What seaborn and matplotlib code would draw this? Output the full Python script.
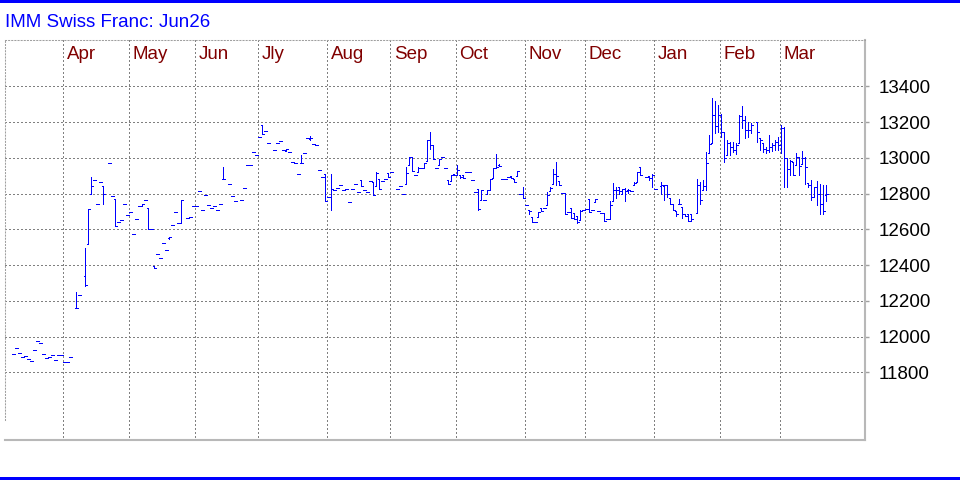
import numpy as np
import pandas as pd
import matplotlib
matplotlib.use("Agg")
from matplotlib import pyplot as plt
from matplotlib.patches import Rectangle
import matplotlib.transforms as mtransforms
import seaborn as sns

# session = weekday number counted from Tue 1 Apr 2025 (negative = March 2025)
session = [
    -17, -16, -15, -14, -13, -12, -11, -10, -9, -8,
    -7, -6, -5, -4, -3, -2, -1, 0, 1, 2,
    4, 5, 7, 8, 9, 10, 11, 12, 13, 15,
    16, 17, 18, 19, 20, 21, 22, 23, 24, 25,
    26, 27, 28, 29, 30, 31, 32, 33, 34, 35,
    36, 37, 38, 39, 41, 42, 43, 44, 45, 46,
    47, 48, 49, 50, 51, 52, 53, 55, 56, 57,
    59, 60, 61, 62, 63, 64, 65, 66, 67, 68,
    70, 71, 72, 73, 74, 75, 76, 77, 78, 79,
    80, 81, 82, 83, 84, 85, 86, 87, 88, 89,
    90, 91, 92, 93, 94, 95, 96, 97, 98, 99,
    100, 101, 102, 103, 104, 105, 106, 107, 108, 109,
    111, 112, 113, 114, 115, 116, 117, 118, 119, 120,
    121, 122, 123, 124, 125, 126, 127, 128, 129, 130,
    131, 132, 133, 134, 135, 136, 137, 138, 139, 140,
    141, 142, 143, 144, 145, 146, 147, 148, 149, 150,
    151, 152, 153, 154, 155, 156, 157, 158, 159, 160,
    161, 162, 163, 164, 165, 166, 167, 168, 169, 170,
    171, 172, 173, 174, 175, 176, 177, 178, 179, 180,
    181, 182, 183, 184, 185, 186, 187, 188, 189, 190,
    191, 192, 194, 195, 196, 197, 199, 200, 201, 202,
    203, 204, 205, 206, 207, 208, 209, 211, 212, 213,
    214, 215, 216, 217, 218, 219, 220, 221, 222, 223,
    224, 225, 226, 227, 228, 229, 231, 232, 233, 234,
    235, 236, 237, 238, 239, 240, 241, 242, 243, 244,
    245, 246, 247, 248, 249, 250, 251, 252, 253, 254,
]

opens = [
    11902, 11935, 11909, 11887, 11891, 11874, 11863, 11924, 11974, 11963,
    11902, 11880, 11885, 11896, 11868, 11896, 11896, 11857, 11857, 11885,
    12160, 12230, 12341, 12520, 12796, 12874, 12741, 12863, 12844, 12969,
    12785, 12768, 12641, 12652, 12741, 12680, 12696, 12574, 12657, 12728,
    12730, 12763, 12719, 12602, 12395, 12463, 12441, 12524, 12485, 12551,
    12624, 12696, 12636, 12636, 12664, 12670, 12732, 12732, 12816, 12709,
    12794, 12738, 12721, 12732, 12709, 12743, 12879, 12856, 12788, 12760,
    12766, 12833, 12957, 12957, 13031, 13014, 13115, 13185, 13149, 13082,
    13042, 13082, 13093, 13042, 13040, 13031, 12974, 12969, 12907, 12969,
    13025, 13110, 13105, 13076, 13070, 12929, 12890, 12912, 12783, 12783,
    12822, 12833, 12850, 12817, 12823, 12755, 12828, 12856, 12806, 12873,
    12817, 12811, 12868, 12862, 12840, 12879, 12868, 12879, 12913, 12918,
    12823, 12840, 12800, 12851, 12958, 13007, 12901, 12920, 12941, 12941,
    12980, 13100, 13072, 12941, 12958, 13003, 12941, 12873, 12870, 12910,
    12901, 12905, 12901, 12918, 12918, 12873, 12806, 12823, 12766, 12766,
    12800, 12817, 12885, 12941, 12960, 12884, 12884, 12895, 12900, 12880,
    12900, 12800, 12800, 12738, 12708, 12667, 12641, 12670, 12720, 12720,
    12736, 12815, 12854, 12910, 12870, 12804, 12804, 12697, 12720, 12690,
    12672, 12652, 12708, 12714, 12770, 12708, 12750, 12703, 12692, 12692,
    12658, 12658, 12759, 12820, 12837, 12800, 12826, 12820, 12815, 12848,
    12865, 12950, 12894, 12900, 12888, 12826, 12843, 12843, 12845, 12777,
    12743, 12700, 12743, 12724, 12687, 12687, 12683, 12690, 12850, 12822,
    12841, 13029, 13082, 13241, 13179, 13241, 13144, 13016, 13082, 13063,
    13044, 13082, 13232, 13213, 13153, 13157, 13200, 13110, 13082, 13048,
    13044, 13063, 13072, 13091, 13072, 13166, 12997, 12935, 12978, 12959,
    13007, 12965, 13000, 12860, 12846, 12781, 12837, 12800, 12743, 12790,
]

highs = [
    11902, 11935, 11909, 11887, 11891, 11874, 11863, 11924, 11974, 11963,
    11902, 11880, 11885, 11896, 11868, 11896, 11896, 11857, 11857, 11885,
    12250, 12230, 12496, 12713, 12893, 12874, 12741, 12863, 12844, 12969,
    12785, 12768, 12641, 12652, 12741, 12680, 12696, 12574, 12657, 12728,
    12741, 12763, 12719, 12602, 12395, 12463, 12441, 12524, 12485, 12556,
    12624, 12696, 12636, 12766, 12664, 12670, 12732, 12732, 12816, 12709,
    12794, 12738, 12721, 12732, 12709, 12743, 12946, 12856, 12788, 12760,
    12766, 12833, 12957, 12957, 13031, 13014, 13115, 13185, 13149, 13082,
    13042, 13082, 13093, 13042, 13050, 13031, 12974, 12969, 12907, 13014,
    13025, 13110, 13120, 13076, 13070, 12929, 12890, 12912, 12783, 12912,
    12822, 12833, 12850, 12817, 12823, 12755, 12828, 12856, 12806, 12873,
    12817, 12811, 12868, 12862, 12918, 12879, 12868, 12879, 12913, 12918,
    12823, 12840, 12800, 12950, 13003, 13007, 12901, 12946, 12941, 12969,
    13100, 13144, 13072, 12941, 12992, 13003, 12941, 12873, 12901, 12910,
    12958, 12905, 12901, 12918, 12918, 12873, 12806, 12823, 12817, 12766,
    12817, 12879, 12941, 13022, 12965, 12884, 12884, 12895, 12900, 12880,
    12927, 12800, 12836, 12738, 12708, 12667, 12641, 12697, 12720, 12720,
    12807, 12836, 12938, 12979, 12870, 12804, 12804, 12697, 12720, 12690,
    12672, 12708, 12708, 12714, 12770, 12708, 12770, 12703, 12692, 12692,
    12658, 12759, 12860, 12837, 12837, 12826, 12832, 12826, 12815, 12865,
    12921, 12950, 12894, 12900, 12910, 12826, 12862, 12850, 12850, 12777,
    12743, 12700, 12771, 12724, 12687, 12687, 12683, 12879, 12867, 12873,
    13033, 13129, 13335, 13317, 13298, 13247, 13144, 13100, 13087, 13090,
    13082, 13241, 13288, 13232, 13198, 13195, 13200, 13110, 13082, 13063,
    13129, 13082, 13100, 13119, 13185, 13175, 12997, 12988, 12978, 13025,
    13007, 13040, 13007, 12860, 12875, 12837, 12871, 12856, 12847, 12847,
]

lows = [
    11902, 11935, 11909, 11887, 11891, 11874, 11863, 11924, 11974, 11963,
    11902, 11880, 11885, 11896, 11868, 11896, 11896, 11857, 11857, 11885,
    12157, 12230, 12280, 12517, 12796, 12874, 12741, 12863, 12741, 12969,
    12785, 12617, 12641, 12652, 12741, 12680, 12696, 12574, 12657, 12728,
    12730, 12763, 12602, 12602, 12385, 12463, 12441, 12524, 12485, 12545,
    12624, 12696, 12636, 12636, 12664, 12670, 12732, 12732, 12816, 12709,
    12794, 12738, 12721, 12732, 12709, 12743, 12879, 12856, 12788, 12760,
    12766, 12833, 12957, 12957, 13031, 13014, 13115, 13132, 13149, 13082,
    13042, 13082, 13093, 13042, 13040, 13031, 12974, 12969, 12907, 12969,
    13025, 13110, 13100, 13076, 13070, 12929, 12890, 12760, 12783, 12709,
    12822, 12833, 12850, 12817, 12823, 12755, 12828, 12856, 12806, 12840,
    12817, 12811, 12868, 12789, 12840, 12828, 12868, 12879, 12890, 12918,
    12823, 12840, 12800, 12851, 12958, 12924, 12901, 12920, 12941, 12941,
    12980, 13050, 12992, 12941, 12958, 13003, 12941, 12856, 12870, 12901,
    12901, 12885, 12885, 12918, 12918, 12873, 12806, 12710, 12766, 12766,
    12800, 12817, 12885, 12941, 12952, 12884, 12884, 12895, 12885, 12864,
    12900, 12800, 12776, 12738, 12686, 12641, 12641, 12670, 12703, 12720,
    12736, 12815, 12854, 12849, 12850, 12804, 12686, 12697, 12664, 12658,
    12635, 12652, 12708, 12714, 12697, 12708, 12750, 12703, 12692, 12647,
    12658, 12658, 12759, 12776, 12800, 12800, 12759, 12805, 12815, 12848,
    12865, 12905, 12894, 12878, 12837, 12826, 12800, 12764, 12780, 12743,
    12709, 12672, 12743, 12664, 12672, 12649, 12649, 12690, 12743, 12822,
    12822, 13029, 13082, 13138, 13147, 13119, 12978, 13016, 13016, 13030,
    13020, 13082, 13166, 13110, 13119, 13138, 13091, 13044, 13035, 13025,
    13035, 13040, 13044, 13044, 13025, 12837, 12837, 12903, 12903, 12959,
    12903, 12965, 12856, 12835, 12762, 12781, 12734, 12687, 12683, 12760,
]

closes = [
    11902, 11935, 11909, 11887, 11891, 11874, 11863, 11924, 11974, 11963,
    11902, 11880, 11885, 11896, 11868, 11896, 11896, 11857, 11857, 11885,
    12160, 12230, 12290, 12713, 12844, 12874, 12741, 12863, 12796, 12969,
    12785, 12617, 12641, 12652, 12741, 12680, 12696, 12574, 12657, 12728,
    12741, 12763, 12602, 12602, 12385, 12463, 12441, 12524, 12485, 12556,
    12624, 12696, 12636, 12766, 12664, 12670, 12732, 12732, 12816, 12709,
    12794, 12738, 12721, 12732, 12709, 12743, 12879, 12856, 12788, 12760,
    12766, 12833, 12957, 12957, 13031, 13014, 13115, 13132, 13149, 13082,
    13042, 13082, 13093, 13042, 13048, 13031, 12974, 12969, 12907, 12969,
    13025, 13110, 13110, 13076, 13070, 12929, 12890, 12760, 12783, 12828,
    12822, 12833, 12850, 12817, 12823, 12755, 12828, 12856, 12806, 12840,
    12817, 12811, 12868, 12789, 12913, 12828, 12868, 12879, 12890, 12918,
    12823, 12840, 12800, 12913, 13003, 12924, 12901, 12941, 12941, 12969,
    13100, 13072, 12992, 12941, 12992, 13003, 12941, 12856, 12901, 12901,
    12930, 12895, 12885, 12918, 12918, 12873, 12806, 12715, 12817, 12766,
    12817, 12879, 12941, 12946, 12955, 12884, 12884, 12895, 12885, 12864,
    12927, 12800, 12776, 12738, 12700, 12641, 12641, 12697, 12703, 12720,
    12790, 12830, 12910, 12900, 12850, 12804, 12686, 12697, 12664, 12658,
    12640, 12703, 12708, 12714, 12697, 12708, 12770, 12703, 12692, 12647,
    12658, 12737, 12820, 12820, 12815, 12826, 12815, 12820, 12815, 12860,
    12921, 12905, 12894, 12888, 12905, 12826, 12845, 12845, 12800, 12743,
    12709, 12687, 12743, 12687, 12672, 12649, 12660, 12850, 12766, 12841,
    12973, 13076, 13241, 13179, 13241, 13144, 13000, 13082, 13063, 13044,
    13072, 13232, 13213, 13153, 13157, 13185, 13147, 13100, 13048, 13044,
    13063, 13072, 13091, 13072, 13166, 12997, 12935, 12980, 12903, 13007,
    12954, 13000, 12950, 12846, 12781, 12837, 12800, 12743, 12700, 12800,
]

month_names = ['Apr', 'May', 'Jun', 'Jly', 'Aug', 'Sep', 'Oct', 'Nov', 'Dec', 'Jan', 'Feb', 'Mar']
month_first_days = ['2025-04-01', '2025-05-01', '2025-06-02', '2025-07-01', '2025-08-01', '2025-09-01',
                    '2025-10-01', '2025-11-03', '2025-12-01', '2026-01-01', '2026-02-02', '2026-03-02']
price_ticks = [11800, 12000, 12200, 12400, 12600, 12800, 13000, 13200, 13400]

df = pd.DataFrame({'session': session, 'open': opens, 'high': highs, 'low': lows, 'close': closes})
month_pos = np.busday_count('2025-04-01', month_first_days) - 0.33

sns.set_style('white')
plt.rcParams['font.family'] = ['Liberation Sans', 'DejaVu Sans']

W, H = 960, 480
fig = plt.figure(figsize=(W / 100, H / 100), dpi=100)
ax = fig.add_axes([5 / W, 40 / H, 860 / W, 400 / H])

# OHLC bars: high-low stem, open tick left, close tick right
bar_color = '#0000ff'
bar_kw = dict(color=bar_color, lw=0.6, antialiased=False, zorder=3)
ax.vlines(df['session'], df['low'], df['high'], **bar_kw)
ax.hlines(df['open'], df['session'] - 0.5, df['session'], **bar_kw)
ax.hlines(df['close'], df['session'], df['session'] + 0.5, **bar_kw)

ax.set_xlim(-19.77, 266.9)
ax.set_ylim(11421, 13659)

# dotted grid
grid_kw = dict(color='#808080', lw=0.75, ls=(0, (1, 2)), antialiased=False, zorder=1)
for p in price_ticks:
    ax.axhline(p, **grid_kw)
for p in month_pos:
    ax.axvline(p, ymin=0.007, **grid_kw)

trans = mtransforms.blended_transform_factory(ax.transData, ax.transAxes)
for name, p in zip(month_names, month_pos):
    ax.text(p + 1.1, 0.952, name, transform=trans, color='#800000', fontsize=13.5, va='baseline', ha='left')

ax.set_xticks([])
ax.set_yticks(price_ticks)
ax.yaxis.tick_right()
ax.tick_params(axis='y', length=3, width=1, color='#a0a0a0', pad=7, labelsize=13.5, labelcolor='black')

for side in ['top', 'left']:
    ax.spines[side].set_linestyle((0, (1, 2)))
    ax.spines[side].set_color('#a0a0a0')
    ax.spines[side].set_linewidth(0.75)
ax.spines['left'].set_bounds(11533, 13659)
for side in ['right', 'bottom']:
    ax.spines[side].set_color('#b8b8b8')
    ax.spines[side].set_linewidth(1.5)

fig.text(5 / W, 1 - 27.3 / H, 'IMM Swiss Franc: Jun26', color='#0000ff', fontsize=13.5, va='baseline', ha='left')

# blue rules at the top and bottom edge
fig.add_artist(Rectangle((0, 1 - 3 / H), 1, 3 / H, transform=fig.transFigure, color='#0000ff', lw=0))
fig.add_artist(Rectangle((0, 0), 1, 3 / H, transform=fig.transFigure, color='#0000ff', lw=0))

fig.savefig('out.png', dpi=100)
